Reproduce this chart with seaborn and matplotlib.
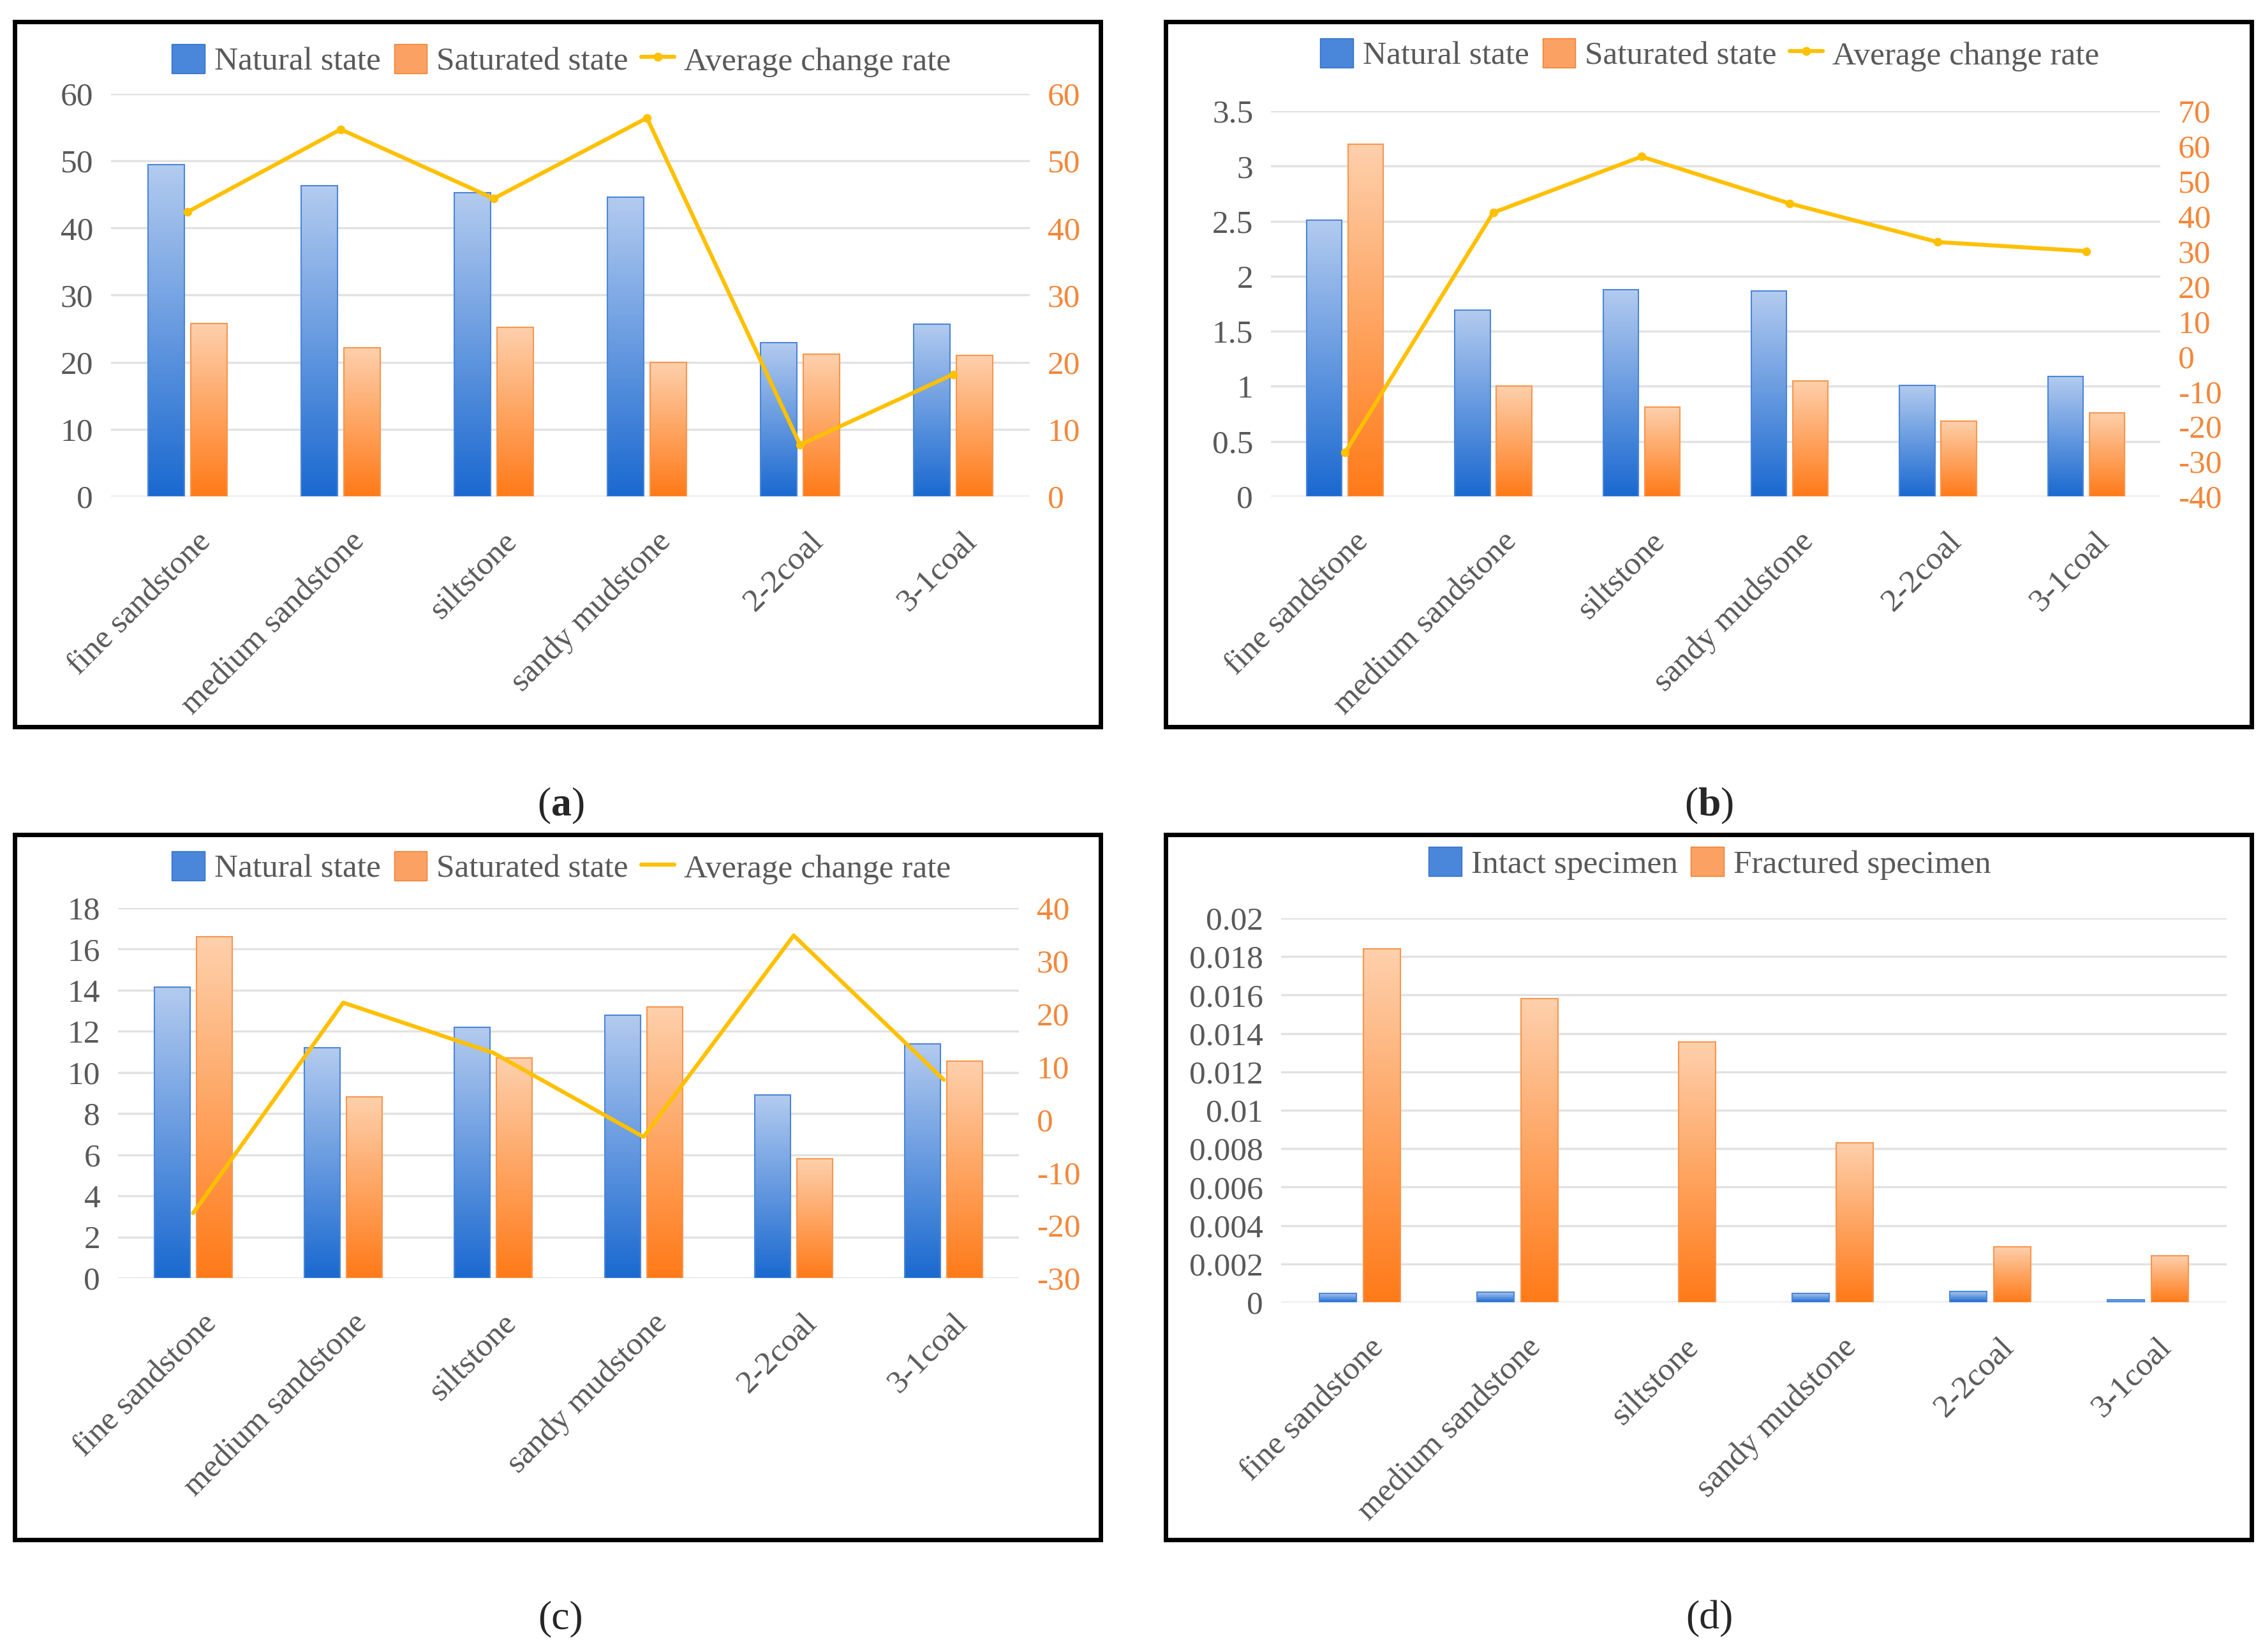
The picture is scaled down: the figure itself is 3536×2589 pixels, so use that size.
import numpy as np
import pandas as pd
import matplotlib
matplotlib.use("Agg")
import matplotlib.pyplot as plt
import matplotlib.transforms as mtransforms
import seaborn as sns
from matplotlib.colors import LinearSegmentedColormap
from matplotlib.patches import Rectangle, Patch
from matplotlib.lines import Line2D

# data
rocks = ["fine sandstone", "medium sandstone", "siltstone", "sandy mudstone", "2-2coal", "3-1coal"]

a_natural = [49.4, 46.3, 45.3, 44.6, 22.9, 25.7]
a_saturated = [25.8, 22.2, 25.2, 20.0, 21.2, 21.0]
a_rate = [42.4, 54.7, 44.4, 56.4, 7.7, 18.2]

b_natural = [2.51, 1.69, 1.88, 1.865, 1.01, 1.09]
b_saturated = [3.20, 1.00, 0.81, 1.05, 0.685, 0.76]
b_rate = [-27.5, 41.0, 57.0, 43.6, 32.6, 30.0]

c_natural = [14.15, 11.2, 12.2, 12.8, 8.9, 11.4]
c_saturated = [16.6, 8.8, 10.7, 13.2, 5.8, 10.55]
c_rate = [-17.7, 22.1, 12.6, -3.3, 34.8, 7.5]

d_intact = [0.00048, 0.00054, 0.0, 0.00048, 0.00057, 0.00013]
d_fractured = [0.0184, 0.0158, 0.01356, 0.00832, 0.0029, 0.00244]

# styling
W, H = 3536, 2589
sns.set_theme(style="white")
plt.rcParams['font.family'] = ['Liberation Serif', 'DejaVu Serif']
plt.rcParams['axes.unicode_minus'] = False
plt.rcParams['mathtext.fontset'] = 'custom'
plt.rcParams['mathtext.rm'] = 'Liberation Serif'
plt.rcParams['mathtext.bf'] = 'Liberation Serif:bold'

FS = 37
GRAY = "#595959"
RIGHT_C = "#F4873A"
GOLD = "#FFC000"
BLUE_MID = "#4A86DA"
ORANGE_MID = "#FBA163"
blue_cmap = LinearSegmentedColormap.from_list("bl", ["#B3CBEF", "#1A69D0"])
orange_cmap = LinearSegmentedColormap.from_list("or", ["#FDD0AC", "#FF7A18"])
edge_colors = ["#4C86D8", "#F8964E"]

fig = plt.figure(figsize=(W / 100, H / 100), dpi=100)


def px_rect(l, t, r, b):
    return [l / W, 1 - b / H, (r - l) / W, (b - t) / H]


def gradient_bars(ax):
    # excel style: light at the top of each bar, dark at the base
    grad = np.linspace(0, 1, 256).reshape(-1, 1)
    for cont, cmap, ec in zip(ax.containers, [blue_cmap, orange_cmap], edge_colors):
        for bar in cont:
            x, w, h = bar.get_x(), bar.get_width(), bar.get_height()
            bar.set_facecolor("none")
            bar.set_edgecolor(ec)
            bar.set_linewidth(1.5)
            if h <= 0:
                bar.set_visible(False)
                continue
            im = ax.imshow(grad, cmap=cmap, extent=[x, x + w, 0, h], origin="upper",
                           aspect="auto", zorder=bar.get_zorder() - 0.01)
            im.set_clip_path(bar)


def draw_panel(rect, left, right, hue_names, ylim, yticks, rate=None, rlim=None, rticks=None,
               rate_marker=True):
    ax = fig.add_axes(px_rect(*rect))
    df = pd.DataFrame({
        "rock": rocks * 2,
        "value": list(left) + list(right),
        "state": [hue_names[0]] * 6 + [hue_names[1]] * 6,
    })
    sns.barplot(data=df, x="rock", y="value", hue="state", palette=[BLUE_MID, ORANGE_MID],
                width=0.56, gap=0.15, errorbar=None, saturation=1, legend=False, ax=ax)
    gradient_bars(ax)
    ax.set_xlim(-0.5, 5.5)
    ax.set_ylim(*ylim)
    ax.set_yticks(yticks)
    ax.set_yticklabels([f"{v:g}" for v in yticks])
    ax.set_xlabel("")
    ax.set_ylabel("")
    ax.set_axisbelow(True)
    ax.yaxis.grid(True, color="#E2E2E2", linewidth=2.5)
    ax.xaxis.grid(False)
    for s in ax.spines.values():
        s.set_visible(False)
    ax.tick_params(axis="y", length=0, labelsize=FS, labelcolor=GRAY, pad=20)
    ax.tick_params(axis="x", length=0, labelsize=FS, labelcolor=GRAY, pad=46)
    offset = mtransforms.ScaledTranslation(0.3, 0, fig.dpi_scale_trans)
    for lab in ax.get_xticklabels():
        lab.set_rotation(45)
        lab.set_ha("right")
        lab.set_va("center")
        lab.set_rotation_mode("anchor")
        lab.set_transform(lab.get_transform() + offset)
    if rate is not None:
        ax2 = ax.twinx()
        sns.lineplot(x=np.arange(len(rate)), y=rate, ax=ax2, color=GOLD, linewidth=4.5,
                     marker="o" if rate_marker else None, markersize=9, markeredgecolor=GOLD)
        ax2.set_ylim(*rlim)
        ax2.set_yticks(rticks)
        ax2.set_yticklabels([f"{v:g}" for v in rticks])
        ax2.set_ylabel("")
        ax2.grid(False)
        for s in ax2.spines.values():
            s.set_visible(False)
        ax2.tick_params(axis="y", length=0, labelsize=FS, labelcolor=RIGHT_C, pad=20)
        ax2.set_xlim(-0.5, 5.5)
    return ax


def add_legend(cx, cy, names, line_name=None, line_marker=True):
    handles = [Patch(facecolor=BLUE_MID, edgecolor="#2F6FC8"),
               Patch(facecolor=ORANGE_MID, edgecolor="#F07B2A")]
    labels = list(names)
    if line_name:
        handles.append(Line2D([], [], color=GOLD, lw=4.5, marker="o" if line_marker else None,
                              markersize=9))
        labels.append(line_name)
    leg = fig.legend(handles, labels, loc="center", bbox_to_anchor=(cx / W, 1 - cy / H),
                     ncol=len(handles), frameon=False, fontsize=FS, handlelength=1.0,
                     handleheight=1.0, handletextpad=0.3, columnspacing=0.4)
    for t in leg.get_texts():
        t.set_color(GRAY)


states = ["Natural state", "Saturated state"]

draw_panel((174, 147, 1614, 778), a_natural, a_saturated, states, (0, 60), np.arange(0, 61, 10),
           a_rate, (0, 60), np.arange(0, 61, 10))
draw_panel((1992, 174, 3386, 778), b_natural, b_saturated, states, (0, 3.5),
           np.arange(0, 3.51, 0.5), b_rate, (-40, 70), np.arange(-40, 71, 10))
draw_panel((185, 1423, 1597, 2003), c_natural, c_saturated, states, (0, 18),
           np.arange(0, 18.1, 2), c_rate, (-30, 40), np.arange(-30, 41, 10), rate_marker=False)
draw_panel((2008, 1439, 3490, 2041), d_intact, d_fractured, ["Intact specimen", "Fractured specimen"],
           (0, 0.02), np.arange(0, 0.02001, 0.002))

add_legend(880, 95, states, "Average change rate")
add_legend(2680, 86, states, "Average change rate")
add_legend(880, 1360, states, "Average change rate", line_marker=False)
add_legend(2680, 1353, ["Intact specimen", "Fractured specimen"])

# panel frames
for l, t, r, b in [(23, 34, 1725, 1139), (1827, 34, 3529, 1139),
                   (23, 1308, 1725, 2413), (1827, 1308, 3529, 2413)]:
    fig.patches.append(Rectangle((l / W, 1 - b / H), (r - l) / W, (b - t) / H, fill=False,
                                 edgecolor="black", linewidth=5, transform=fig.transFigure))

# panel labels
fig.text(879 / W, 1 - 1263 / H, r"($\mathbf{a}$)", ha="center", va="center", fontsize=46)
fig.text(2679 / W, 1 - 1263 / H, r"($\mathbf{b}$)", ha="center", va="center", fontsize=46)
fig.text(879 / W, 1 - 2537 / H, "(c)", ha="center", va="center", fontsize=46)
fig.text(2679 / W, 1 - 2537 / H, "(d)", ha="center", va="center", fontsize=46)

fig.savefig("out.png", dpi=100)
